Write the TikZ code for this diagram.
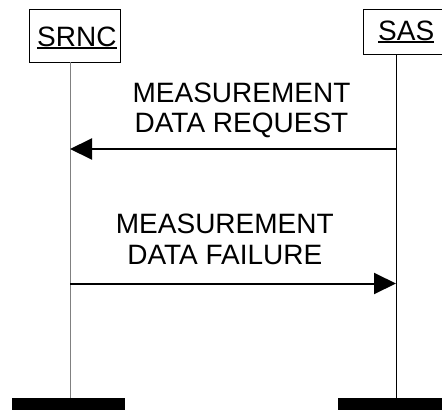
\documentclass[tikz,border=0pt]{standalone}
\usepackage{fontspec}
\setmainfont{Liberation Sans}
\usetikzlibrary{arrows.meta}
\begin{document}
\begin{tikzpicture}[x=1pt,y=1pt,
  headbox/.style={draw=black,line width=0.8pt,inner sep=0pt},
  lbl/.style={inner sep=0pt,font=\fontsize{28}{30}\selectfont},
  uline/.style={line width=2.5pt},
  lifeline/.style={line width=1pt},
  bar/.style={fill=black,draw=none,inner sep=0pt},
  msg/.style={line width=2pt,-{Triangle[length=22pt,width=21pt]}}]
\useasboundingbox (0,0) rectangle (442,-410);
\clip (0,0) rectangle (442,-410);

% instance heads
\node[headbox,minimum width=91pt,minimum height=53pt] (srncbox) at (74.5,-35.5) {};
\node[headbox,minimum width=90pt,minimum height=45pt] (sasbox) at (408,-31.5) {};
\node[lbl,anchor=base west] (srnct) at (37,-46.7) {SRNC};
\node[lbl,anchor=base west] (sast) at (378,-40.2) {SAS};
\draw[uline] ([yshift=-1.3pt]srnct.base west) -- ([yshift=-1.3pt]srnct.base east);
\draw[uline] ([yshift=-1.8pt]sast.base west) -- ([yshift=-1.8pt]sast.base east);

% instance ends
\node[bar,minimum width=113pt,minimum height=12pt] (srncbar) at (68.5,-404) {};
\node[bar,minimum width=112pt,minimum height=12pt] (sasbar) at (394,-404) {};

% lifelines
\coordinate (srncl) at (70,-62);
\coordinate (sasl) at (396,-54);
\draw[lifeline,draw={rgb,255:red,128;green,128;blue,128}] (srncl) -- (srncl |- srncbar.north);
\draw[lifeline] (sasl) -- (sasl |- sasbar.north);

% messages
\coordinate (m1a) at (396,-149);
\coordinate (m1b) at (70,-149);
\draw[msg] (m1a) -- (m1b);
\node[lbl,anchor=base] (m1l1) at (241.5,-102) {MEASUREMENT};
\node[lbl,anchor=base] (m1l2) at (241.5,-132) {DATA REQUEST};

\coordinate (m2a) at (70,-283.5);
\coordinate (m2b) at (396,-283.5);
\draw[msg] (m2a) -- (m2b);
\node[lbl,anchor=base] (m2l1) at (224.8,-233.5) {MEASUREMENT};
\node[lbl,anchor=base] (m2l2) at (224.8,-264) {DATA FAILURE};
\end{tikzpicture}
\end{document}
